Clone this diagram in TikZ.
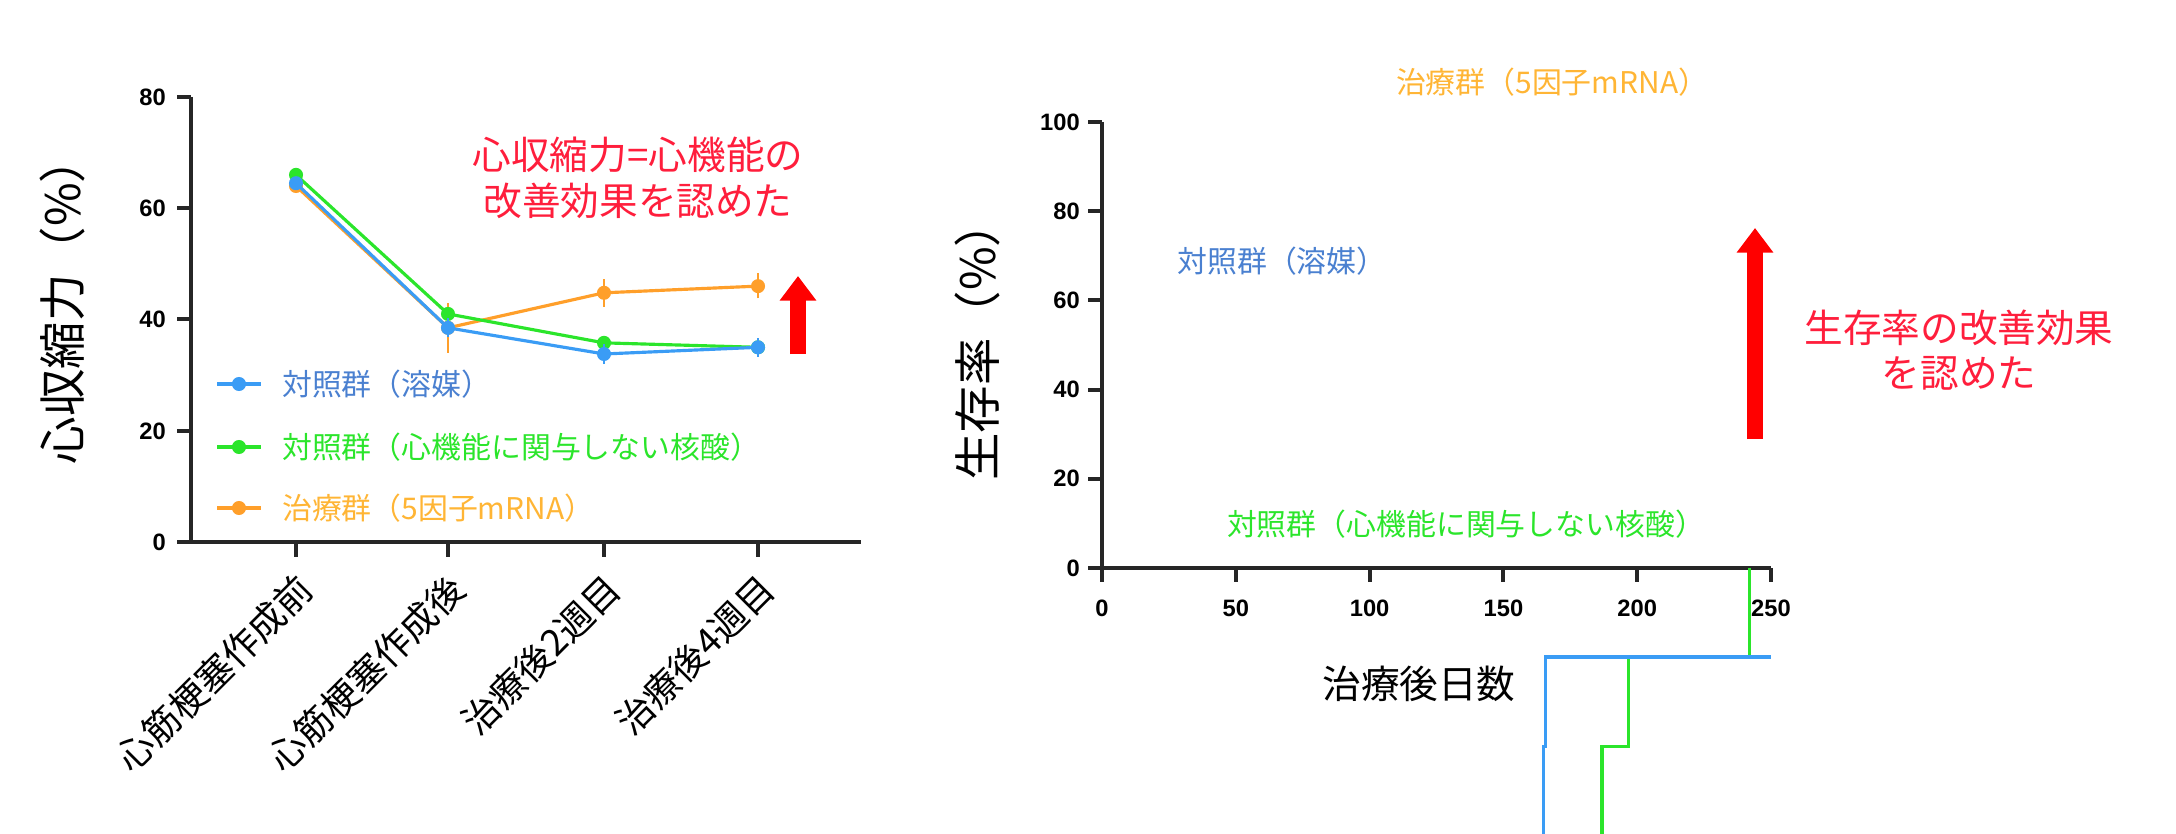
\documentclass[tikz,border=0pt]{standalone}
\usepackage{fontspec}
\setmainfont{Noto Sans CJK JP}
\newfontfamily\tickf{Liberation Sans}
\usetikzlibrary{arrows.meta}
\definecolor{cblue}{HTML}{3A9CF5}
\definecolor{tblue}{HTML}{4A80D0}
\definecolor{cgreen}{HTML}{2BE52B}
\definecolor{corange}{HTML}{FF9F2A}
\definecolor{torange}{HTML}{FFB535}
\definecolor{cred}{HTML}{FF1E3C}
\begin{document}
\begin{tikzpicture}[x=0.02cm,y=-0.02cm,
 ax/.style={line width=2.2pt,black!85},
 tk/.style={font=\tickf\bfseries\fontsize{13.5}{14}\selectfont},
 lg/.style={font=\fontsize{17}{20}\selectfont},
 big/.style={font=\fontsize{27}{30}\selectfont},
 mid/.style={font=\fontsize{22}{26}\selectfont},
 ser/.style={line width=1.8pt},
 dot/.style={circle,fill,inner sep=0pt,minimum size=8pt},
 eb/.style={line width=1.2pt},
 redarrow/.style={line width=9pt,red,-{Triangle[length=14pt,width=20pt]}}]
\useasboundingbox (0,0) rectangle (2176,834);
% ---------- left plot ----------
\draw[ax] (191,97) -- (191,542) -- (861,542);
\foreach \vv/\yy in {0/542,20/431,40/319,60/208,80/97}{
  \draw[ax] (177,\yy) -- (191,\yy);
  \node[tk,anchor=east] at (172,\yy) {\vv};}
\foreach \xx/\lbl in {296/心筋梗塞作成前,448/心筋梗塞作成後,604/治療後2週目,758/治療後4週目}{
  \draw[ax] (\xx,542) -- (\xx,557);
  \node[font=\fontsize{21}{24}\selectfont,rotate=45,anchor=east] at (\xx+14,578) {\lbl};}
\node[big,rotate=90] (ylab1) at (62,300) {心収縮力（\%）};
% orange
\coordinate (o1) at (296,{542-64*5.5625});
\coordinate (o2) at (448,{542-38.5*5.5625});
\coordinate (o3) at (604,{542-44.8*5.5625});
\coordinate (o4) at (758,{542-46*5.5625});
\draw[corange,eb] (448,{542-34*5.5625}) -- (448,{542-43*5.5625});
\draw[corange,eb] (604,{542-42.3*5.5625}) -- (604,{542-47.3*5.5625});
\draw[corange,eb] (758,{542-43.8*5.5625}) -- (758,{542-48.3*5.5625});
\draw[corange,ser] (o1) -- (o2) -- (o3) -- (o4);
\foreach \nm in {o1,o2,o3,o4}{\node[dot,corange] at (\nm) {};}
% green
\coordinate (g1) at (296,{542-66*5.5625});
\coordinate (g2) at (448,{542-41*5.5625});
\coordinate (g3) at (604,{542-35.8*5.5625});
\coordinate (g4) at (758,{542-35*5.5625});
\draw[cgreen,ser] (g1) -- (g2) -- (g3) -- (g4);
\foreach \nm in {g1,g2,g3,g4}{\node[dot,cgreen] at (\nm) {};}
% blue
\coordinate (b1) at (296,{542-64.5*5.5625});
\coordinate (b2) at (448,{542-38.5*5.5625});
\coordinate (b3) at (604,{542-33.8*5.5625});
\coordinate (b4) at (758,{542-35*5.5625});
\draw[cblue,eb] (604,{542-32*5.5625}) -- (604,{542-35.6*5.5625});
\draw[cblue,eb] (758,{542-33.3*5.5625}) -- (758,{542-36.7*5.5625});
\draw[cblue,eb] (448,{542-36.8*5.5625}) -- (448,{542-40.2*5.5625});
\draw[cblue,ser] (b1) -- (b2) -- (b3) -- (b4);
\foreach \nm in {b1,b2,b3,b4}{\node[dot,cblue] at (\nm) {};}
% legend
\foreach \cc/\tc/\yy/\lbl in {cblue/tblue/384/対照群（溶媒）,cgreen/cgreen/447/対照群（心機能に関与しない核酸）,corange/torange/508/治療群（5因子mRNA）}{
  \draw[\cc,ser] (217,\yy) -- (261,\yy);
  \node[dot,\cc] at (239,\yy) {};
  \node[lg,text=\tc,anchor=west] at (276,\yy) {\lbl};}
\node[mid,text=cred,align=center] (note1) at (638,178) {心収縮力=心機能の\\改善効果を認めた};
\coordinate (a1s) at (798,354); \coordinate (a1e) at (798,276);
\draw[redarrow] (a1s) -- (a1e);
% ---------- right plot ----------
\draw[ax] (1102,122) -- (1102,568) -- (1771,568);
\foreach \vv in {0,20,40,60,80,100}{
  \draw[ax] (1088,{568-\vv*4.46}) -- (1102,{568-\vv*4.46});
  \node[tk,anchor=east] at (1086,{568-\vv*4.46}) {\vv};}
\foreach \vv in {0,50,100,150,200,250}{
  \draw[ax] ({1102+\vv*2.676},568) -- ({1102+\vv*2.676},582);
  \node[tk,anchor=north] at ({1102+\vv*2.676},594) {\vv};}
\node[big,rotate=90] (ylab2) at (977,340) {生存率（\%）};
\node[mid] (xlab2) at (1419,684) {治療後日数};
\begin{scope}[x=0.05352cm,y=-0.0892cm,shift={(22.04cm,-11.36cm)}]
\draw[corange,ser] (121,100) -- (232,100) -- (232,80) -- (250,80);
\draw[cgreen,ser] (0,100) -- (121,100) -- (121,80) -- (127,80) -- (127,60) -- (187,60) -- (187,40) -- (197,40) -- (197,20) -- (242,20) -- (242,0);
\draw[cblue,ser] (0,100) -- (87,100) -- (87,80) -- (145,80) -- (145,60) -- (165,60) -- (165,40) -- (166,40) -- (166,20) -- (250,20);
\end{scope}
\node[lg,text=torange] (lo) at (1552,82) {治療群（5因子mRNA）};
\node[lg,text=tblue] (lb) at (1282,261) {対照群（溶媒）};
\node[lg,text=cgreen] (lgn) at (1466,524) {対照群（心機能に関与しない核酸）};
\coordinate (a2s) at (1755,439); \coordinate (a2e) at (1755,228);
\draw[redarrow] (a2s) -- (a2e);
\node[mid,text=cred,align=center] (note2) at (1959,350) {生存率の改善効果\\を認めた};
\end{tikzpicture}
\end{document}
